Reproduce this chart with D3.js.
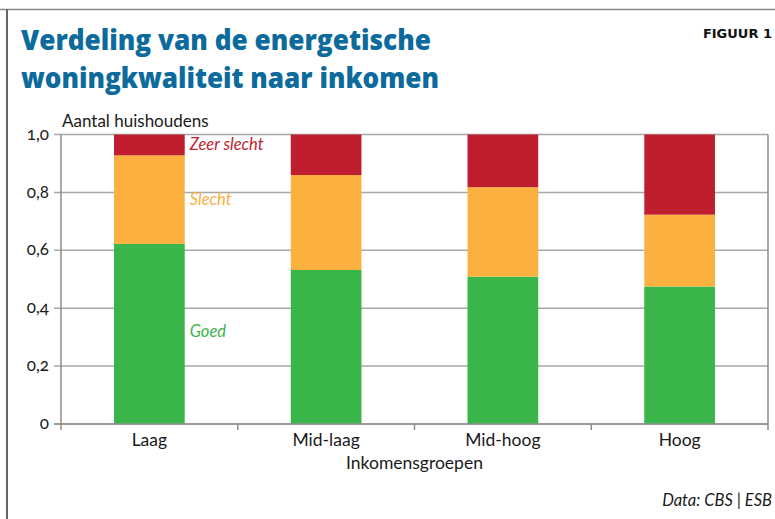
<!DOCTYPE html>
<meta charset="utf-8">
<style>
    body {
        margin: 0;
        background-color: #fff;
    }

    svg text {
        font-family: Lato, "Open Sans", sans-serif;
        fill: #1a1a1a;
    }

    .title {
        font-family: "Open Sans", sans-serif;
        font-weight: 800;
        fill: #0c6b9c !important;
    }

    .tick-label {
        font-size: 17px;
        font-variant-numeric: oldstyle-nums;
    }

    .grid line {
        stroke: #a8a8a8;
        stroke-width: 1.5px;
    }

    .seg-label {
        font-style: italic;
        font-size: 16.5px;
    }
</style>

<body>
    <svg width="775" height="519"></svg>
</body>
<script src="https://d3js.org/d3.v7.min.js"></script>
<script>
    // data
    var groups = ["Laag", "Mid-laag", "Mid-hoog", "Hoog"];
    var goed = [0.622, 0.532, 0.509, 0.475];
    var slecht = [0.306, 0.328, 0.309, 0.248];
    var zeerSlecht = [0.072, 0.140, 0.182, 0.277];
    var yTicks = [0, 0.2, 0.4, 0.6, 0.8, 1.0];
    var seriesNames = ["Goed", "Slecht", "Zeer slecht"];
    var colors = ["#39b54a", "#fbb040", "#be1e2d"];

    var svg = d3.select("svg"),
        margin = { top: 134.5, right: 7, bottom: 95, left: 61 },
        width = +svg.attr("width") - margin.left - margin.right,
        height = +svg.attr("height") - margin.top - margin.bottom;

    // frame
    svg.append("line")
        .attr("x1", 0).attr("x2", 775)
        .attr("y1", 9.5).attr("y2", 9.5)
        .attr("stroke", "#8a8a8a").attr("stroke-width", 1.5);
    svg.append("line")
        .attr("x1", 7).attr("x2", 7)
        .attr("y1", 9.5).attr("y2", 519)
        .attr("stroke", "#333").attr("stroke-width", 1.5);

    // title
    var title = svg.append("text")
        .attr("class", "title")
        .style("font-size", "29px");
    title.append("tspan").attr("x", 21).attr("y", 50)
        .attr("textLength", 410).attr("lengthAdjust", "spacingAndGlyphs")
        .text("Verdeling van de energetische");
    title.append("tspan").attr("x", 21).attr("y", 88)
        .attr("textLength", 418).attr("lengthAdjust", "spacingAndGlyphs")
        .text("woningkwaliteit naar inkomen");

    svg.append("text")
        .attr("x", 772)
        .attr("y", 38)
        .attr("text-anchor", "end")
        .style("font-family", "'DejaVu Sans', sans-serif")
        .style("font-weight", "900")
        .style("font-size", "13px")
        .style("fill", "#111")
        .text("FIGUUR 1");

    var stackData = groups.map(function(g, i) {
        return { group: g, "Goed": goed[i], "Slecht": slecht[i], "Zeer slecht": zeerSlecht[i] };
    });
    var stack = d3.stack().keys(seriesNames)(stackData);

    var x = d3.scaleBand().domain(groups).range([0, width]).padding(0);
    var y = d3.scaleLinear().domain([0, 1]).range([height, 0]);
    var barW = x.bandwidth() * 0.4;

    var g = svg.append("g")
        .attr("transform", "translate(" + margin.left + "," + margin.top + ")");

    // gridlines with outward ticks
    g.append("g")
        .attr("class", "grid")
        .selectAll("line")
        .data(yTicks)
        .join("line")
        .attr("x1", -7)
        .attr("x2", width)
        .attr("y1", function(d) { return y(d); })
        .attr("y2", function(d) { return y(d); });

    g.append("g")
        .selectAll("text")
        .data(yTicks)
        .join("text")
        .attr("class", "tick-label")
        .attr("x", -12)
        .attr("y", function(d) { return y(d); })
        .attr("dy", "0.3em")
        .attr("text-anchor", "end")
        .text(function(d) { return d === 0 ? "0" : d3.format(".1f")(d).replace(".", ","); });

    // bars
    g.append("g")
        .selectAll("g")
        .data(stack)
        .join("g")
        .attr("fill", function(d, i) { return colors[i]; })
        .selectAll("rect")
        .data(function(d) { return d; })
        .join("rect")
        .attr("x", function(d) { return x(d.data.group) + (x.bandwidth() - barW) / 2; })
        .attr("y", function(d) { return y(d[1]); })
        .attr("height", function(d) { return y(d[0]) - y(d[1]); })
        .attr("width", barW);

    // axes
    var axisColor = "#8c8c8c";
    g.append("line")
        .attr("x1", 0).attr("x2", 0)
        .attr("y1", 0).attr("y2", height + 6)
        .attr("stroke", axisColor).attr("stroke-width", 1.5);
    g.append("line")
        .attr("x1", width).attr("x2", width)
        .attr("y1", 0).attr("y2", height + 6)
        .attr("stroke", axisColor).attr("stroke-width", 1.5);
    g.append("line")
        .attr("x1", -7).attr("x2", width)
        .attr("y1", height).attr("y2", height)
        .attr("stroke", axisColor).attr("stroke-width", 1.5);
    g.append("g")
        .selectAll("line")
        .data(groups.slice(1))
        .join("line")
        .attr("x1", function(d) { return x(d); })
        .attr("x2", function(d) { return x(d); })
        .attr("y1", height)
        .attr("y2", height + 6)
        .attr("stroke", axisColor).attr("stroke-width", 1.5);

    g.append("g")
        .selectAll("text")
        .data(groups)
        .join("text")
        .attr("x", function(d) { return x(d) + x.bandwidth() / 2; })
        .attr("y", height + 22)
        .attr("text-anchor", "middle")
        .style("font-size", "17.5px")
        .text(function(d) { return d; });

    g.append("text")
        .attr("x", width / 2)
        .attr("y", height + 45)
        .attr("text-anchor", "middle")
        .style("font-size", "17.5px")
        .text("Inkomensgroepen");

    g.append("text")
        .attr("x", 1)
        .attr("y", -8)
        .style("font-size", "17px")
        .text("Aantal huishoudens");

    // segment labels next to first bar
    var labelX = x(groups[0]) + (x.bandwidth() + barW) / 2 + 5;
    var labelPos = [0.32, 0.775, 0.965];
    g.append("g")
        .selectAll("text")
        .data(seriesNames)
        .join("text")
        .attr("class", "seg-label")
        .attr("x", labelX)
        .attr("y", function(d, i) { return y(labelPos[i]); })
        .attr("dy", "0.35em")
        .style("fill", function(d, i) { return colors[i]; })
        .text(function(d) { return d; });

    svg.append("text")
        .attr("x", 772)
        .attr("y", 506)
        .attr("text-anchor", "end")
        .style("font-style", "italic")
        .style("font-size", "16.5px")
        .text("Data: CBS | ESB");
</script>
